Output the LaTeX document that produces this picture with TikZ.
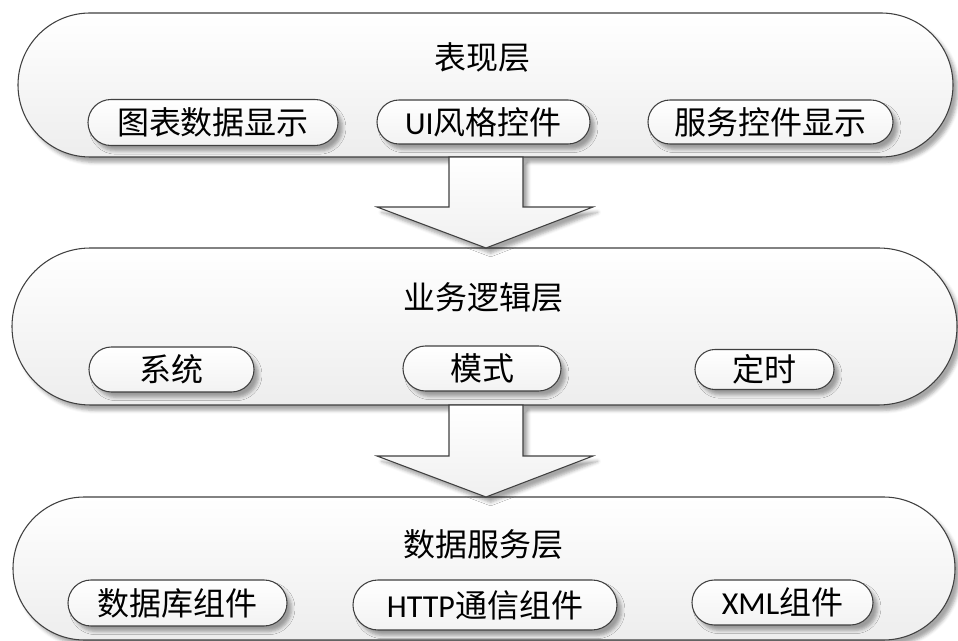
\documentclass[tikz,border=0pt]{standalone}
\usepackage{fontspec}
\setmainfont{Carlito}
\newfontfamily\cjk{Noto Sans CJK SC}
\usetikzlibrary{shapes.misc,shadows.blur}

\tikzset{
  softshadow/.style={blur shadow={shadow xshift=3.5pt, shadow yshift=-4pt,
      shadow blur radius=2.5pt, shadow opacity=35}},
  layerbox/.style={shape=rounded rectangle, draw=black!75, line width=0.8pt,
      top color=white, bottom color=black!7, softshadow, inner sep=0pt},
  pillbox/.style={shape=rounded rectangle, draw=black!75, line width=0.8pt,
      top color=white, bottom color=black!5, softshadow, inner sep=0pt,
      font=\fontsize{24pt}{28pt}\selectfont},
  layertitle/.style={font=\fontsize{24pt}{28pt}\selectfont\cjk, inner sep=0pt},
  blockarrow/.style={draw=black!75, line width=0.8pt, line join=miter,
      top color=white, bottom color=black!6, softshadow},
}

\begin{document}
\begin{tikzpicture}[x=0.75pt, y=-0.75pt]
\useasboundingbox (0,0) rectangle (958,641);

% three layers
\node[layerbox, minimum width=935*0.75pt, minimum height=144*0.75pt] (present) at (485.5,85) {};
\node[layerbox, minimum width=945*0.75pt, minimum height=157*0.75pt] (logic) at (484.5,326.5) {};
\node[layerbox, minimum width=942*0.75pt, minimum height=143*0.75pt] (data) at (484,568.5) {};

% block arrows between layers
\draw[blockarrow] (449,157) -- (523,157) -- (523,207) -- (593,207) -- (486,248)
  -- (377,207) -- (449,207) -- cycle;
\draw[blockarrow] (449,405) -- (523,405) -- (523,456) -- (593,456) -- (486,497)
  -- (377,456) -- (449,456) -- cycle;

% layer titles
\node[layertitle] (presentT) at (482,57) {表现层};
\node[layertitle] (logicT) at (483,297) {业务逻辑层};
\node[layertitle] (dataT) at (483,544) {数据服务层};

% presentation layer components
\node[pillbox, minimum width=250*0.75pt, minimum height=46*0.75pt] (chart) at (213,122.5) {\cjk 图表数据显示};
\node[pillbox, minimum width=213*0.75pt, minimum height=44*0.75pt] (ui) at (483.5,122) {UI{\cjk 风格控件}};
\node[pillbox, minimum width=245*0.75pt, minimum height=44*0.75pt] (svc) at (770.5,122) {\cjk 服务控件显示};

% business logic layer components
\node[pillbox, minimum width=165*0.75pt, minimum height=45*0.75pt] (sys) at (171.5,369.5) {\cjk 系统};
\node[pillbox, minimum width=158*0.75pt, minimum height=45*0.75pt] (mode) at (482,368.5) {\cjk 模式};
\node[pillbox, minimum width=139*0.75pt, minimum height=40*0.75pt] (timer) at (764.5,369.5) {\cjk 定时};

% data service layer components
\node[pillbox, minimum width=219*0.75pt, minimum height=46*0.75pt] (db) at (177.5,603) {\cjk 数据库组件};
\node[pillbox, minimum width=264*0.75pt, minimum height=50*0.75pt] (http) at (485,605) {HTTP{\cjk 通信组件}};
\node[pillbox, minimum width=181*0.75pt, minimum height=45*0.75pt] (xml) at (782.5,602.5) {XML{\cjk 组件}};
\end{tikzpicture}
\end{document}
